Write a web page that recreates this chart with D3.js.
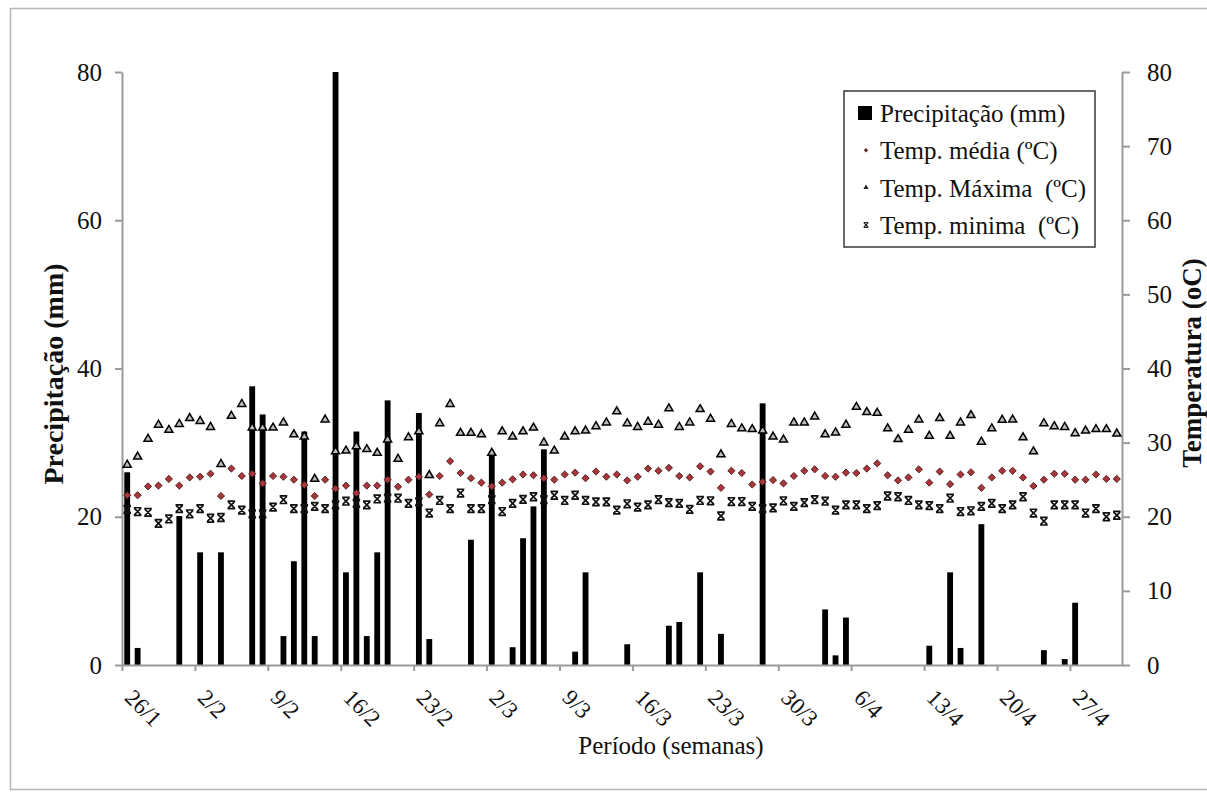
<!DOCTYPE html>
<html>
<head>
<meta charset="utf-8">
<script src="https://cdn.jsdelivr.net/npm/d3@7"></script>
<style>
  body { margin: 0; background: #fff; }
  svg text { font-family: "Liberation Serif", "DejaVu Serif", "Noto Serif", "Times New Roman", Times, serif !important; fill: #111; white-space: pre; }
</style>
</head>
<body>
<svg id="chart" width="1207" height="794"></svg>
<script>
// daily records 26/1 .. 1/5
const dias = d3.timeDay.range(new Date(2013, 0, 26), new Date(2013, 4, 2));
const semanaLabels = ["26/1", "2/2", "9/2", "16/2", "23/2", "2/3", "9/3", "16/3", "23/3", "30/3", "6/4", "13/4", "20/4", "27/4"];

const precipitacao = [
  26, 2.3, 0, 0, 0, 20.1, 0, 15.2, 0, 15.2,
  0, 0, 37.6, 33.8, 0, 3.9, 14, 31.5, 3.9, 0,
  80, 12.5, 31.5, 3.9, 15.2, 35.7, 0, 0, 34, 3.5,
  0, 0, 0, 16.9, 0, 28.6, 0, 2.4, 17.1, 21.4,
  29.1, 0, 0, 1.8, 12.5, 0, 0, 0, 2.8, 0,
  0, 0, 5.3, 5.8, 0, 12.5, 0, 4.2, 0, 0,
  0, 35.3, 0, 0, 0, 0, 0, 7.5, 1.3, 6.4,
  0, 0, 0, 0, 0, 0, 0, 2.6, 0, 12.5,
  2.3, 0, 19, 0, 0, 0, 0, 0, 2, 0,
  0.8, 8.4, 0, 0, 0, 0
];

const tempMedia = [
  22.9, 22.9, 24.1, 24.2, 25.1, 24.2, 25.3, 25.4, 25.8, 22.8,
  26.5, 25.5, 25.8, 24.5, 25.5, 25.4, 25.0, 24.3, 22.8, 25.0,
  23.8, 24.2, 23.2, 24.2, 24.2, 25.0, 24.05, 25.0, 25.4, 23.0,
  25.5, 27.5, 25.9, 25.2, 24.6, 24.1, 24.6, 25.05, 25.7, 25.6,
  25.2, 25.0, 25.7, 25.95, 25.2, 26.1, 25.4, 25.7, 24.9, 25.4,
  26.5, 26.2, 26.6, 25.5, 25.3, 26.8, 26.1, 23.9, 26.2, 25.9,
  24.35, 24.7, 24.95, 24.5, 25.5, 26.2, 26.4, 25.5, 25.4, 25.95,
  25.9, 26.5, 27.2, 25.6, 24.9, 25.3, 26.4, 24.6, 26.1, 24.4,
  25.7, 26.0, 23.9, 25.3, 26.2, 26.2, 25.3, 24.15, 25.0, 25.8,
  25.8, 25.0, 25.0, 25.7, 25.1, 25.1
];

const tempMaxima = [
  27.0, 28.1, 30.5, 32.4, 31.7, 32.5, 33.3, 32.9, 32.1, 27.1,
  33.6, 35.2, 32.0, 32.0, 32.0, 32.7, 31.1, 30.8, 25.1, 33.1,
  28.8, 28.9, 29.5, 29.1, 28.6, 30.4, 27.8, 30.7, 31.5, 25.6,
  32.6, 35.2, 31.3, 31.3, 31.1, 28.6, 31.5, 30.8, 31.5, 32.0,
  30.0, 28.9, 30.8, 31.5, 31.6, 32.2, 32.7, 34.2, 32.6, 32.1,
  32.8, 32.4, 34.6, 32.1, 32.7, 34.5, 33.2, 28.4, 32.5, 31.9,
  31.8, 31.6, 30.8, 30.4, 32.7, 32.7, 33.5, 31.1, 31.35, 32.4,
  34.8, 34.1, 34.0, 31.9, 30.45, 31.7, 33.1, 30.9, 33.3, 30.9,
  32.7, 33.7, 30.1, 31.9, 33.05, 33.1, 30.7, 28.8, 32.6, 32.2,
  32.1, 31.25, 31.6, 31.8, 31.8, 31.2
];

const tempMinima = [
  21.0, 20.7, 20.6, 19.1, 19.7, 21.1, 20.4, 21.1, 19.8, 19.9,
  21.6, 20.9, 20.4, 20.4, 21.3, 22.3, 21.1, 21.1, 21.4, 21.1,
  21.6, 22.1, 21.8, 21.6, 22.4, 22.5, 22.5, 21.8, 22.0, 20.5,
  22.2, 21.1, 23.2, 21.1, 21.1, 22.3, 20.7, 21.8, 22.35, 22.7,
  22.3, 22.9, 22.2, 22.9, 22.2, 22.0, 22.0, 20.9, 21.75, 21.3,
  21.6, 22.3, 21.9, 21.8, 21.0, 22.2, 22.15, 20.1, 22.05, 22.05,
  21.4, 21.1, 21.2, 22.15, 21.4, 21.9, 22.3, 22.1, 20.9, 21.6,
  21.6, 21.1, 21.5, 22.8, 22.7, 22.2, 21.6, 21.5, 21.1, 22.5,
  20.7, 20.8, 21.4, 21.8, 21.1, 21.6, 22.7, 20.5, 19.4, 21.6,
  21.6, 21.6, 20.5, 21.1, 20.0, 20.2
];

const legendItems = ["Precipitação (mm)", "Temp. média (ºC)", "Temp. Máxima  (ºC)", "Temp. minima  (ºC)"];

const svg = d3.select("#chart");
const plot = { left: 122, right: 1122, top: 72, bottom: 665 };
const AXIS_GRAY = "#9a9a9a";
const SERIF = '"Liberation Serif", "DejaVu Serif", "Noto Serif", "Times New Roman", Times, serif';

// outer frame of the figure
svg.append("rect")
  .attr("x", 10.5).attr("y", 8.5)
  .attr("width", 1210).attr("height", 781)
  .attr("fill", "none").attr("stroke", "#b5b5b5").attr("stroke-width", 1.5);

// scales
const xBand = d3.scaleBand()
  .domain(d3.range(dias.length))
  .range([plot.left, plot.right])
  .paddingInner(0.44)
  .paddingOuter(0.22);
const xDay = d3.scaleLinear().domain([0, dias.length]).range([plot.left, plot.right]);
const xCenter = (i) => xBand(i) + xBand.bandwidth() / 2;
const yPrec = d3.scaleLinear().domain([0, 80]).range([plot.bottom, plot.top]);
const yTemp = d3.scaleLinear().domain([0, 80]).range([plot.bottom, plot.top]);

// bars
svg.append("g")
  .selectAll("rect")
  .data(precipitacao.map((v, i) => ({ i, v })).filter((d) => d.v > 0))
  .join("rect")
  .attr("x", (d) => xBand(d.i))
  .attr("width", xBand.bandwidth())
  .attr("y", (d) => yPrec(d.v))
  .attr("height", (d) => yPrec(0) - yPrec(d.v))
  .attr("fill", "#000");

// axes
function styleAxis(g) {
  g.attr("font-family", SERIF);
  g.select(".domain").attr("stroke", AXIS_GRAY).attr("stroke-width", 2);
  g.selectAll(".tick line").attr("stroke", AXIS_GRAY).attr("stroke-width", 2);
  g.selectAll("text").attr("fill", "#1a1a1a").style("font-size", "25px");
}

svg.append("g")
  .attr("transform", `translate(${plot.left},0)`)
  .call(d3.axisLeft(yPrec).tickValues([0, 20, 40, 60, 80]).tickSize(7).tickPadding(13).tickSizeOuter(0))
  .call(styleAxis);

svg.append("g")
  .attr("transform", `translate(${plot.right},0)`)
  .call(d3.axisRight(yTemp).tickValues(d3.range(0, 81, 10)).tickSize(8).tickPadding(17).tickSizeOuter(0))
  .call(styleAxis);

const weekTicks = d3.range(0, dias.length, 7);
svg.append("g")
  .attr("transform", `translate(0,${plot.bottom})`)
  .call(d3.axisBottom(xDay).tickValues(weekTicks).tickSize(6).tickSizeOuter(0)
    .tickFormat((d, k) => semanaLabels[k]))
  .call(styleAxis)
  .call((g) => g.selectAll("text")
    .attr("x", 0).attr("y", 0).attr("dy", 0)
    .attr("transform", "translate(1,34) rotate(45)")
    .style("text-anchor", "start")
    .style("font-size", "23px"));

// markers
const diamond = "M0,-3.6L3.6,0L0,3.6L-3.6,0Z";
const starX = "M-3.8,-3.8H3.8M-3.8,3.8H3.8M-3.2,-3.2L3.2,3.2M3.2,-3.2L-3.2,3.2";
const triangle = d3.symbol(d3.symbolTriangle, 28)();

const marks = svg.append("g");
marks.append("g").selectAll("path")
  .data(tempMaxima)
  .join("path")
  .attr("d", triangle)
  .attr("transform", (d, i) => `translate(${xCenter(i)},${yTemp(d)})`)
  .attr("fill", "#bdbdbd").attr("stroke", "#000").attr("stroke-width", 1.5);

marks.append("g").selectAll("path")
  .data(tempMedia)
  .join("path")
  .attr("d", diamond)
  .attr("transform", (d, i) => `translate(${xCenter(i)},${yTemp(d)})`)
  .attr("fill", "#a8363a").attr("stroke", "#4a1a1a").attr("stroke-width", 0.9);

marks.append("g").selectAll("path")
  .data(tempMinima)
  .join("path")
  .attr("d", starX)
  .attr("transform", (d, i) => `translate(${xCenter(i)},${yTemp(d)})`)
  .attr("fill", "none").attr("stroke", "#111").attr("stroke-width", 1.7);

// axis titles
svg.append("text")
  .attr("transform", "translate(63,374) rotate(-90)")
  .attr("text-anchor", "middle")
  .attr("font-family", SERIF)
  .style("font-size", "28px").style("font-weight", "bold")
  .text("Precipitação (mm)");

svg.append("text")
  .attr("transform", "translate(1201,363) rotate(-90)")
  .attr("text-anchor", "middle")
  .attr("font-family", SERIF)
  .style("font-size", "27px").style("font-weight", "bold")
  .text("Temperatura (oC)");

svg.append("text")
  .attr("x", 671).attr("y", 754)
  .attr("text-anchor", "middle")
  .attr("font-family", SERIF)
  .style("font-size", "25px")
  .text("Período (semanas)");

// legend
const legend = svg.append("g").attr("font-family", SERIF);
legend.append("rect")
  .attr("x", 844).attr("y", 91).attr("width", 251).attr("height", 156)
  .attr("fill", "#fff").attr("stroke", "#444").attr("stroke-width", 1.6);

const rowY = (k) => 113 + k * 37.3;
legend.selectAll("text")
  .data(legendItems)
  .join("text")
  .attr("x", 880)
  .attr("y", (d, k) => rowY(k) + 9)
  .style("font-size", "25px")
  .text((d) => d);

legend.append("rect")
  .attr("x", 858).attr("y", rowY(0) - 7).attr("width", 14).attr("height", 14)
  .attr("fill", "#000");
legend.append("path")
  .attr("d", "M0,-2.2L2.2,0L0,2.2L-2.2,0Z")
  .attr("transform", `translate(866,${rowY(1)})`)
  .attr("fill", "#5a2a2a");
legend.append("path")
  .attr("d", d3.symbol(d3.symbolTriangle, 12)())
  .attr("transform", `translate(866,${rowY(2)})`)
  .attr("fill", "#222");
legend.append("path")
  .attr("d", "M-2.4,-2.4H2.4M-2.4,2.4H2.4M-2,-2L2,2M2,-2L-2,2")
  .attr("transform", `translate(866,${rowY(3)})`)
  .attr("fill", "none").attr("stroke", "#222").attr("stroke-width", 1.2);
</script>
</body>
</html>
